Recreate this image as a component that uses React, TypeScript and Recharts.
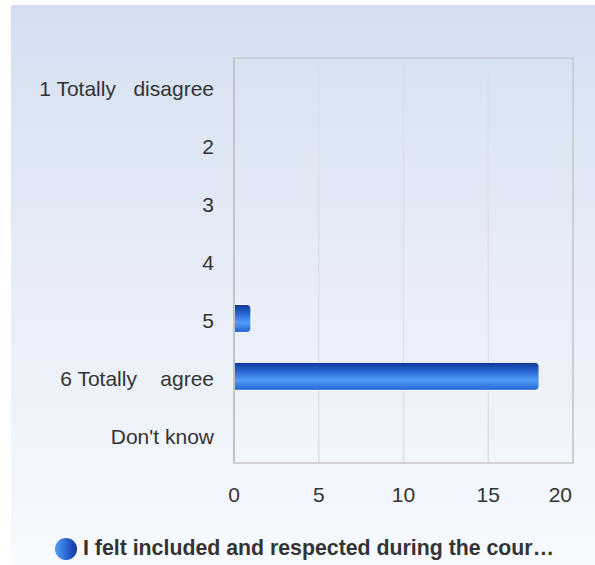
import React from 'react';
import { BarChart, Bar, XAxis, YAxis, CartesianGrid, ReferenceArea } from 'recharts';

const categories = ['1 Totally   disagree', '2', '3', '4', '5', '6 Totally    agree', "Don't know"];
const counts = [0, 0, 0, 0, 1, 18, 0];
const xTicks = [0, 5, 10, 15, 20];
const seriesName = 'I felt included and respected during the cour…';

const data = categories.map((c, i) => ({ label: c, value: counts[i] }));

const FONT = '"Liberation Sans", Arial, sans-serif';
const FS = 21;

const YTick = (props: any) => {
  const { x, y, payload } = props;
  return (
    <text x={x} y={y + 2} dy="0.355em" textAnchor="end" fill="#333" fontSize={FS} fontFamily={FONT} style={{ whiteSpace: 'pre' }}>
      {payload.value}
    </text>
  );
};

const XTick = (props: any) => {
  const { x, y, payload } = props;
  const last = payload.value === xTicks[xTicks.length - 1];
  return (
    <text x={last ? x - 1 : x} y={y} dy="0.71em" textAnchor={last ? 'end' : 'middle'} fill="#333" fontSize={FS} fontFamily={FONT}>
      {payload.value}
    </text>
  );
};

export default function App() {
  return (
    <div style={{ position: 'absolute', left: 0, top: 0, width: 595, height: 565, background: '#fff', fontFamily: FONT }}>
      <div
        style={{
          position: 'absolute', left: 11, top: 5, width: 584, height: 560,
          background: 'linear-gradient(to bottom, #d3dff0 0%, #e6ecf7 45%, #f7faff 100%)',
        }}
      />
      <div style={{ position: 'absolute', left: 0, top: 0 }}>
        <BarChart
          width={595}
          height={565}
          data={data}
          layout="vertical"
          margin={{ top: 58, right: 22, bottom: 50, left: 0 }}
          barCategoryGap="26%"
        >
          <defs>
            <linearGradient id="barFill" x1="0" y1="0" x2="0" y2="1">
              <stop offset="0%" stopColor="#0f3596" />
              <stop offset="35%" stopColor="#2d6ad8" />
              <stop offset="65%" stopColor="#4f9cf6" />
              <stop offset="100%" stopColor="#2462cf" />
            </linearGradient>
          </defs>
          <CartesianGrid horizontal={false} stroke="#dcdfe6" strokeWidth={1.5} />
          <ReferenceArea x1={0} x2={20} fill="none" stroke="#c6c8cc" strokeWidth={1.5} ifOverflow="extendDomain" />
          <XAxis
            type="number"
            domain={[0, 20]}
            ticks={xTicks}
            axisLine={false}
            tickLine={false}
            tickMargin={18}
            height={52}
            tick={<XTick />}
          />
          <YAxis
            type="category"
            dataKey="label"
            width={234}
            axisLine={{ stroke: '#c0c2c6', strokeWidth: 2 }}
            tickLine={false}
            tickMargin={14}
            tick={<YTick />}
            interval={0}
          />
          <Bar
            dataKey="value"
            name={seriesName}
            fill="url(#barFill)"
            stroke="#ffffff"
            strokeWidth={1}
            radius={[0, 4, 4, 0]}
            isAnimationActive={false}
          />
        </BarChart>
      </div>
      <div style={{ position: 'absolute', left: 55, top: 536, display: 'flex', alignItems: 'center', whiteSpace: 'nowrap' }}>
        <span
          style={{
            width: 22, height: 22, borderRadius: '50%', display: 'inline-block',
            background: 'linear-gradient(to right, #4f9cf6 0%, #2d6ad8 50%, #0f3596 100%)',
          }}
        />
        <span style={{ marginLeft: 6, fontSize: 21.3, fontWeight: 'bold', color: '#333' }}>{seriesName}</span>
      </div>
    </div>
  );
}
